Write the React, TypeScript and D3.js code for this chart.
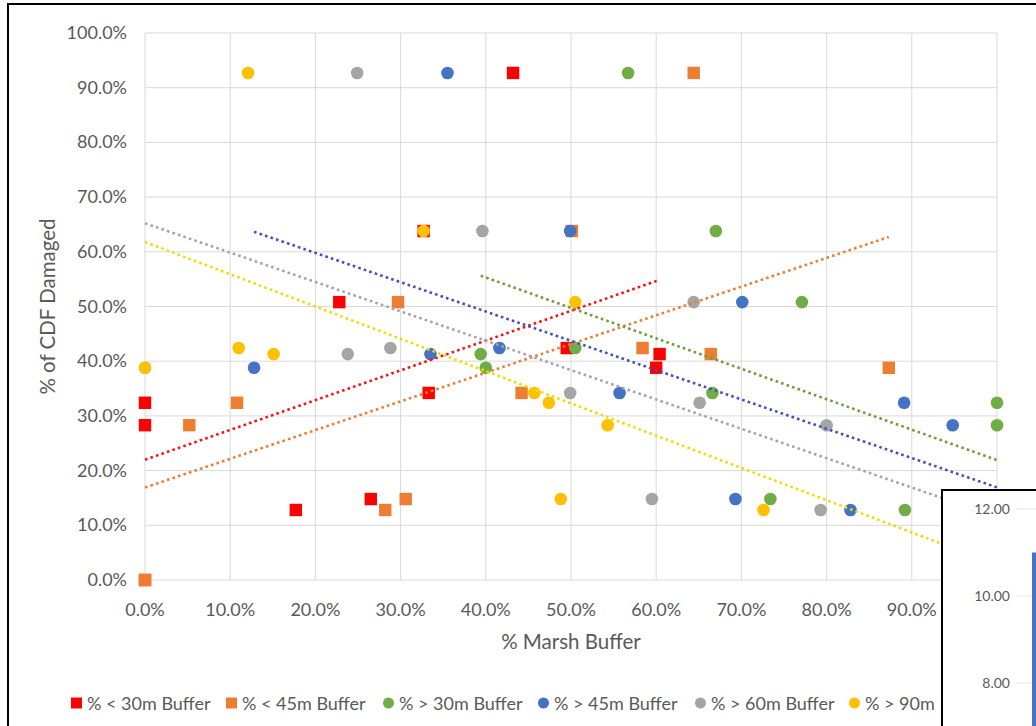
import React from 'react';
import * as d3 from 'd3';

// Shared y values (% of CDF damaged), one per facility row
const damaged = [92.7, 63.8, 50.8, 42.4, 41.3, 38.8, 34.2, 32.4, 28.3, 14.8, 12.8, 0.0];
// % marsh buffer for each series, same row order as `damaged`
const lt30 = [43.2, 32.7, 22.8, 49.5, 60.4, 60.0, 33.3, 0, 0, 26.5, 17.7, 0];
const lt45 = [64.4, 50.1, 29.7, 58.4, 66.4, 87.3, 44.2, 10.8, 5.2, 30.6, 28.2, 0];
const gt30 = [56.7, 67.0, 77.1, 50.5, 39.4, 40.0, 66.6, 100, 100, 73.4, 89.2, 100];
const gt45 = [35.5, 49.9, 70.1, 41.6, 33.5, 12.8, 55.7, 89.1, 94.8, 69.3, 82.8, 100];
const gt60 = [24.9, 39.6, 64.4, 28.8, 23.8, 0, 49.9, 65.1, 80.0, 59.5, 79.3, 100];
const gt90 = [12.1, 32.7, 50.5, 11.0, 15.1, 0, 45.7, 47.4, 54.3, 48.8, 72.6, 100];

const seriesNames = ['% < 30m Buffer', '% < 45m Buffer', '% > 30m Buffer', '% > 45m Buffer', '% > 60m Buffer', '% > 90m Buffer'];
const seriesX = [lt30, lt45, gt30, gt45, gt60, gt90];
const seriesShape = ['square', 'square', 'circle', 'circle', 'circle', 'circle'];
const markerColors = ['#FF0000', '#ED7D31', '#70AD47', '#4472C4', '#A5A5A5', '#FFC000'];
const trendColors = ['#FF1010', '#ED7D31', '#6E9E3A', '#4450C0', '#A5A5A5', '#EEDD00'];

const xTicks = [0, 10, 20, 30, 40, 50, 60, 70, 80, 90, 100];
const yTicks = [0, 10, 20, 30, 40, 50, 60, 70, 80, 90, 100];
// the 100.0% x label sits under the inset chart and is not visible
const xLabelTicks = [0, 10, 20, 30, 40, 50, 60, 70, 80, 90];

// inset chart (partially visible)
const insetTicks = [8, 10, 12];
const insetBarValue = 11.0;

const FONT = 'Lato, "Open Sans", sans-serif';
const TXT = '#595959';

function regression(xs: number[], ys: number[]) {
  const n = xs.length;
  const mx = d3.mean(xs)!;
  const my = d3.mean(ys)!;
  let sxy = 0, sxx = 0;
  for (let i = 0; i < n; i++) {
    sxy += (xs[i] - mx) * (ys[i] - my);
    sxx += (xs[i] - mx) * (xs[i] - mx);
  }
  const slope = sxy / sxx;
  return { slope, intercept: my - slope * mx, x0: d3.min(xs)!, x1: d3.max(xs)! };
}

export default function App() {
  const W = 1036, H = 726;
  const L = 145, R = 997, T = 33, B = 580;
  const x = d3.scaleLinear().domain([0, 100]).range([L, R]);
  const y = d3.scaleLinear().domain([0, 100]).range([B, T]);
  const fmt = (v: number) => v.toFixed(1) + '%';

  const insetY = d3.scaleLinear().domain([8, 12]).range([683, 509]);

  const legendX = [71, 226, 383, 538, 695, 849];

  return (
    <svg width={W} height={H} style={{ position: 'absolute', left: 0, top: 0, background: '#fff' }} fontFamily={FONT}>
      <defs>
        <clipPath id="legendClip">
          <rect x={0} y={0} width={940} height={H} />
        </clipPath>
      </defs>
      <rect x={0} y={0} width={W} height={H} fill="#fff" />
      {/* outer frame */}
      <rect x={8} y={4} width={W + 50} height={H + 50} fill="none" stroke="#000" strokeWidth={2} />

      {/* gridlines */}
      {yTicks.map((t) => (
        <line key={'gy' + t} x1={L} x2={R} y1={y(t)} y2={y(t)} stroke="#D9D9D9" strokeWidth={1} />
      ))}
      {xTicks.map((t) => (
        <line key={'gx' + t} x1={x(t)} x2={x(t)} y1={T} y2={B} stroke="#D9D9D9" strokeWidth={1} />
      ))}

      {/* y tick labels */}
      {yTicks.map((t) => (
        <text key={'ty' + t} x={127} y={y(t) + 6} textAnchor="end" fontSize={18} fill={TXT}>{fmt(t)}</text>
      ))}
      {/* x tick labels */}
      {xLabelTicks.map((t) => (
        <text key={'tx' + t} x={x(t)} y={616} textAnchor="middle" fontSize={18} fill={TXT}>{fmt(t)}</text>
      ))}

      {/* axis titles */}
      <text x={(L + R) / 2} y={649} textAnchor="middle" fontSize={20.5} fill={TXT}>% Marsh Buffer</text>
      <text transform={`translate(55,${(T + B) / 2}) rotate(-90)`} textAnchor="middle" fontSize={20.5} fill={TXT}>% of CDF Damaged</text>

      {/* markers */}
      {seriesX.map((xs, si) => (
        <g key={'s' + si}>
          {xs.map((xv, i) => seriesShape[si] === 'square' ? (
            <rect key={i} x={x(xv) - 6.2} y={y(damaged[i]) - 6.2} width={12.4} height={12.4} fill={markerColors[si]} />
          ) : (
            <circle key={i} cx={x(xv)} cy={y(damaged[i])} r={6.3} fill={markerColors[si]} />
          ))}
        </g>
      ))}

      {/* linear trendlines */}
      {seriesX.map((xs, si) => {
        const r = regression(xs, damaged);
        return (
          <line key={'tr' + si}
            x1={x(r.x0)} y1={y(r.intercept + r.slope * r.x0)}
            x2={x(r.x1)} y2={y(r.intercept + r.slope * r.x1)}
            stroke={trendColors[si]} strokeWidth={2.6} strokeDasharray="2.6 3.2" />
        );
      })}

      {/* legend */}
      <g clipPath="url(#legendClip)">
        {seriesNames.map((name, si) => (
          <g key={'lg' + si} transform={`translate(${legendX[si]},703)`}>
            {seriesShape[si] === 'square' ? (
              <rect x={0} y={-5.5} width={11} height={11} fill={markerColors[si]} />
            ) : (
              <circle cx={5.5} cy={0} r={5.5} fill={markerColors[si]} />
            )}
            <text x={16} y={6.5} fontSize={18} fill={TXT}>{name}</text>
          </g>
        ))}
      </g>

      {/* overlapping inset chart */}
      <rect x={942} y={490} width={200} height={300} fill="#fff" stroke="#000" strokeWidth={2} />
      {insetTicks.map((t) => (
        <g key={'it' + t}>
          <line x1={1016} x2={W} y1={insetY(t)} y2={insetY(t)} stroke="#E6E6E6" strokeWidth={1} />
          <text x={1010} y={insetY(t) + 5} textAnchor="end" fontSize={14} fill={TXT}>{t.toFixed(2)}</text>
        </g>
      ))}
      <rect x={1032} y={insetY(insetBarValue)} width={20} height={H - insetY(insetBarValue) + 10} fill="#4472C4" />
    </svg>
  );
}
